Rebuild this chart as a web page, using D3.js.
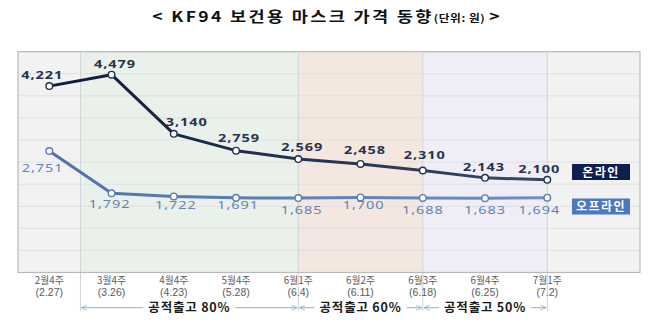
<!DOCTYPE html>
<html>
<head>
<meta charset="utf-8">
<script src="https://cdn.jsdelivr.net/npm/d3@7"></script>
<style>
  html, body { margin: 0; padding: 0; background: #fff; }
  svg { display: block; font-family: "Noto Sans CJK KR", "Noto Sans", sans-serif; }
</style>
</head>
<body>
<svg id="chart" width="659" height="326"></svg>
<script>
// Weekly KF94 mask prices (won)
const weeks   = ["2월4주", "3월4주", "4월4주", "5월4주", "6월1주", "6월2주", "6월3주", "6월4주", "7월1주"];
const dates   = ["(2.27)", "(3.26)", "(4.23)", "(5.28)", "(6.4)", "(6.11)", "(6.18)", "(6.25)", "(7.2)"];
const online  = [4221, 4479, 3140, 2759, 2569, 2458, 2310, 2143, 2100];
const offline = [2751, 1792, 1722, 1691, 1685, 1700, 1688, 1683, 1694];
const seriesNames = ["온라인", "오프라인"];
const yTicks = [0, 500, 1000, 1500, 2000, 2500, 3000, 3500, 4000, 4500, 5000];
// Public supply phases: label and the week indices where each begins and ends
const phaseLabels = ["공적출고 80%", "공적출고 60%", "공적출고 50%"];
const phaseStart  = [0.5, 4, 6];
const phaseEnd    = [4, 6, 8];

const svg = d3.select("#chart");
const frame = { left: 18, right: 640, top: 51.7, bottom: 272.5 };

const x = d3.scalePoint().domain(d3.range(weeks.length)).range([49.3, 547.3]);
const step = x.step();
const xi = v => x(0) + v * step;       // fractional week index -> pixel
const y = d3.scaleLinear().domain([0, 5000]).range([frame.bottom, frame.top]);

// Background bands
const bands = [
  { a: frame.left, b: xi(phaseStart[0]), fill: "#f2f2f3" },
  { a: xi(phaseStart[0]), b: xi(phaseEnd[0]), fill: "#eaf0ea" },
  { a: xi(phaseStart[1]), b: xi(phaseEnd[1]), fill: "#f4e7df" },
  { a: xi(phaseStart[2]), b: xi(phaseEnd[2]), fill: "#efedf5" },
  { a: xi(phaseEnd[2]), b: frame.right, fill: "#f2f2f3" }
];
svg.append("g").selectAll("rect").data(bands).join("rect")
  .attr("x", d => d.a).attr("y", frame.top)
  .attr("width", d => d.b - d.a).attr("height", frame.bottom - frame.top)
  .attr("fill", d => d.fill);

// Horizontal gridlines
svg.append("g").selectAll("line").data(yTicks.slice(1, -1)).join("line")
  .attr("x1", frame.left).attr("x2", frame.right)
  .attr("y1", d => y(d)).attr("y2", d => y(d))
  .attr("stroke", "#e0e0e2").attr("stroke-width", 1);

// Phase divider lines (run down to the phase arrows)
const dividers = [phaseStart[0], phaseEnd[0], phaseEnd[1], phaseEnd[2]];
svg.append("g").selectAll("line").data(dividers).join("line")
  .attr("x1", d => xi(d)).attr("x2", d => xi(d))
  .attr("y1", frame.top).attr("y2", 311)
  .attr("stroke", "#d2d2d6").attr("stroke-width", 1);

// Plot frame
svg.append("rect")
  .attr("x", frame.left).attr("y", frame.top)
  .attr("width", frame.right - frame.left).attr("height", frame.bottom - frame.top)
  .attr("fill", "none").attr("stroke", "#b9b9bb").attr("stroke-width", 1.2);

// Title (set slightly wide)
const title = svg.append("text")
  .attr("transform", "translate(326,22) scale(1.17,1)")
  .attr("text-anchor", "middle")
  .attr("font-weight", "bold").attr("fill", "#111")
  .style("font-family", "'Noto Sans CJK KR', sans-serif");
title.append("tspan").attr("font-size", 15).attr("letter-spacing", 2).text("< KF94 보건용 마스크 가격 동향");
title.append("tspan").attr("font-size", 10).attr("letter-spacing", 0.5).text("(단위: 원)");
title.append("tspan").attr("font-size", 15).text(" >");

// Gradients for the lines
const defs = svg.append("defs");
function grad(id, c1, c2) {
  const g = defs.append("linearGradient").attr("id", id)
    .attr("gradientUnits", "userSpaceOnUse")
    .attr("x1", x(0)).attr("x2", x(weeks.length - 1)).attr("y1", 0).attr("y2", 0);
  g.append("stop").attr("offset", "0%").attr("stop-color", c1);
  g.append("stop").attr("offset", "100%").attr("stop-color", c2);
}
grad("gOn", "#0e1c3c", "#3a4863");
grad("gOff", "#4d72ad", "#6f8fc3");

const line = d3.line().x((d, i) => x(i)).y(d => y(d));

const series = [
  { values: online, stroke: "url(#gOn)", pt: "#23314f", label: "#27324d", weight: 700 },
  { values: offline, stroke: "url(#gOff)", pt: "#5a7db6", label: "#6282b3", weight: 400 }
];

series.forEach(s => {
  svg.append("path").datum(s.values)
    .attr("d", line).attr("fill", "none")
    .attr("stroke", s.stroke).attr("stroke-width", 3)
    .attr("stroke-linejoin", "round").attr("stroke-linecap", "round");
});
series.forEach(s => {
  svg.append("g").selectAll("circle").data(s.values).join("circle")
    .attr("cx", (d, i) => x(i)).attr("cy", d => y(d)).attr("r", 3.3)
    .attr("fill", "#fff").attr("stroke", s.pt).attr("stroke-width", 1.4);
});

// Value labels, nudged clear of the lines
const onNudge  = [[-7, -7.5], [3.5, -6.7], [13, -7.6], [3, -8.3], [4, -8], [4.5, -9.6], [2, -11], [-1, -7], [-8, -6.4]];
const offNudge = [[-6.6, 20.8], [-2, 15], [2, 13], [2, 11.5], [3.4, 16], [3, 12], [0, 16], [0, 16], [-8, 16]];
const fmt = d3.format(",");
[[series[0], onNudge], [series[1], offNudge]].forEach(([s, nudge]) => {
  svg.append("g").selectAll("text").data(s.values).join("text")
    .attr("transform", (d, i) => `translate(${x(i) + nudge[i][0]},${y(d) + nudge[i][1]}) scale(1.38,1)`)
    .attr("text-anchor", "middle")
    .attr("font-size", 10.5).attr("letter-spacing", 0.7)
    .attr("font-weight", s.weight).attr("fill", s.label)
    .style("font-family", "'Noto Sans', sans-serif")
    .text(d => fmt(d));
});

// Series name tags at the right end
const tagColors = ["#0d1f4f", "#4a78c1"];
[online, offline].forEach((vals, k) => {
  const cy = k === 0 ? 172 : 206.5;
  svg.append("rect")
    .attr("x", 572).attr("y", cy - 8).attr("width", 58).attr("height", 16)
    .attr("fill", tagColors[k]);
  svg.append("text")
    .attr("x", 601).attr("y", cy + 4.5).attr("text-anchor", "middle")
    .attr("font-size", 12).attr("font-weight", "bold").attr("letter-spacing", 1.5)
    .attr("fill", "#fff").text(seriesNames[k]);
});

// X axis labels (two lines: week and date)
const xl = svg.append("g").selectAll("text").data(weeks).join("text")
  .attr("text-anchor", "middle").attr("fill", "#5a5a5a");
xl.append("tspan").attr("x", (d, i) => x(i)).attr("y", 284)
  .attr("font-size", 9.8).text(d => d);
xl.append("tspan").attr("x", (d, i) => x(i)).attr("y", 296)
  .style("font-family", "'Liberation Sans', sans-serif").attr("font-size", 10.5)
  .text((d, i) => dates[i]);

// Phase arrows with labels
const arrowColor = "#8db2d8";
defs.append("marker").attr("id", "ah").attr("viewBox", "0 0 10 10")
  .attr("refX", 10).attr("refY", 5).attr("markerWidth", 6).attr("markerHeight", 6)
  .attr("orient", "auto-start-reverse").attr("markerUnits", "userSpaceOnUse")
  .append("path").attr("d", "M0,1 L10,5 L0,9").attr("fill", "none")
  .attr("stroke", arrowColor).attr("stroke-width", 1.4);

const ay = 307.7;
phaseLabels.forEach((lab, k) => {
  const a = xi(phaseStart[k]), b = xi(phaseEnd[k]);
  const cx = (a + b) / 2;
  const t = svg.append("text").attr("x", cx).attr("y", ay + 4.5)
    .attr("text-anchor", "middle").attr("font-size", 12.5).attr("font-weight", "bold")
    .attr("letter-spacing", 0.8).attr("fill", "#1a1a1a").text(lab);
  const w = t.node().getComputedTextLength();
  const gap = 5;
  svg.append("line").attr("x1", cx - w / 2 - gap).attr("x2", a + 1)
    .attr("y1", ay).attr("y2", ay).attr("stroke", arrowColor).attr("stroke-width", 1)
    .attr("marker-end", "url(#ah)");
  svg.append("line").attr("x1", cx + w / 2 + gap).attr("x2", b - 1)
    .attr("y1", ay).attr("y2", ay).attr("stroke", arrowColor).attr("stroke-width", 1)
    .attr("marker-end", "url(#ah)");
});
</script>
</body>
</html>
